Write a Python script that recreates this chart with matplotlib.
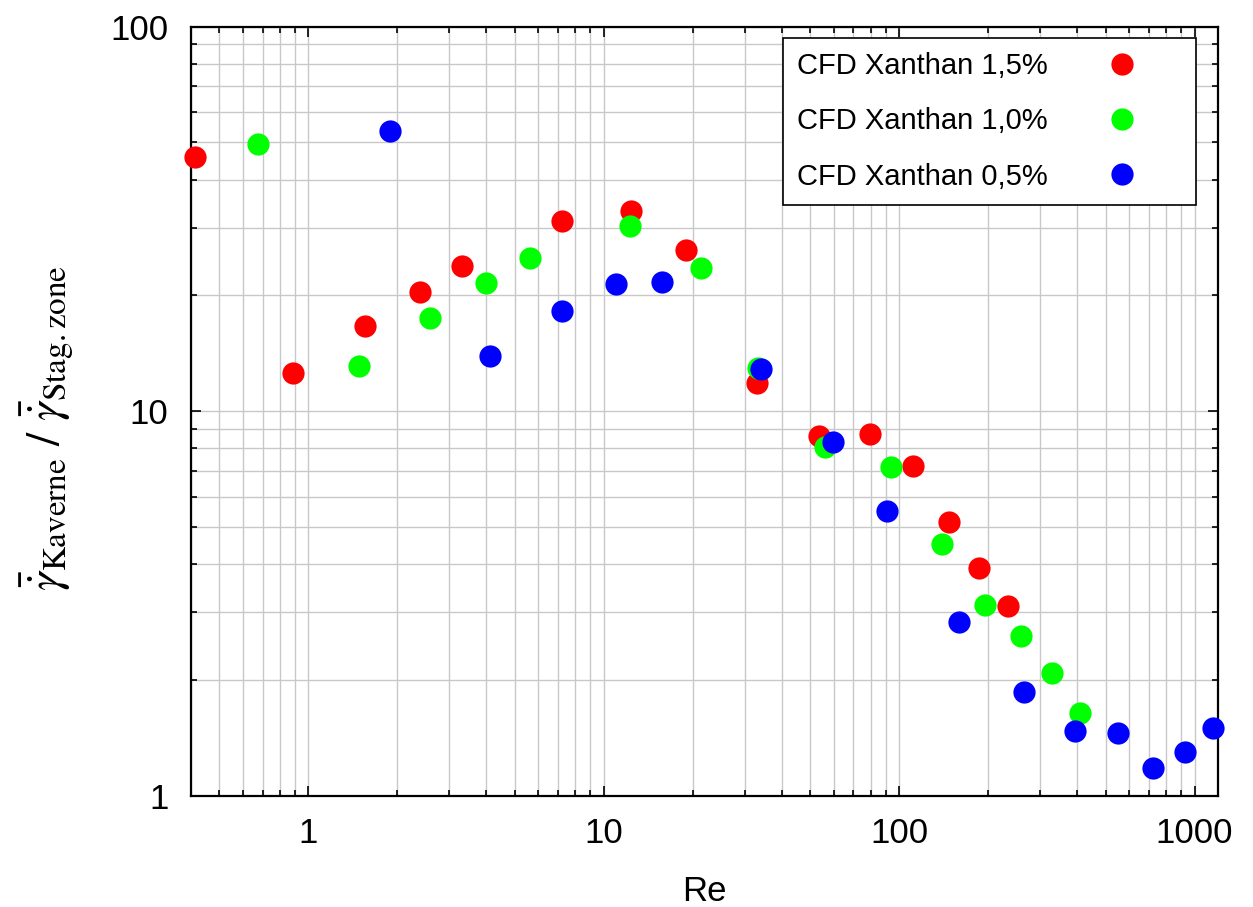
import numpy as np
import matplotlib
matplotlib.use('Agg')
from matplotlib import pyplot as plt
from matplotlib.ticker import LogLocator, FuncFormatter, NullFormatter

# data (Re vs. shear rate ratio)
re_15 = [0.414, 0.89, 1.55, 2.38, 3.32, 7.25, 12.4, 19.0, 32.9, 53.7, 79.9, 111, 147, 187, 233]
ratio_15 = [45.8, 12.56, 16.66, 20.4, 23.9, 31.2, 33.2, 26.2, 11.84, 8.62, 8.73, 7.21, 5.15, 3.91, 3.11]

re_10 = [0.677, 1.49, 2.59, 3.98, 5.65, 12.3, 21.4, 33.4, 56.3, 93.5, 140, 195, 258, 328, 408]
ratio_10 = [49.5, 13.1, 17.5, 21.5, 25.0, 30.3, 23.6, 12.95, 8.07, 7.16, 4.52, 3.13, 2.60, 2.08, 1.64]

re_05 = [1.895, 4.13, 7.25, 11.04, 15.7, 34.2, 59.5, 91.3, 160, 264, 393, 549, 722, 926, 1152]
ratio_05 = [53.6, 13.9, 18.2, 21.4, 21.7, 12.88, 8.32, 5.50, 2.83, 1.86, 1.47, 1.455, 1.18, 1.30, 1.50]

labels = ['CFD Xanthan 1,5%', 'CFD Xanthan 1,0%', 'CFD Xanthan 0,5%']
colors = ['#ff0000', '#00ff00', '#0000ff']

plt.rcParams['font.family'] = ['Liberation Sans', 'DejaVu Sans']
plt.rcParams['mathtext.fontset'] = 'stix'

W, H = 1253, 907
fig = plt.figure(figsize=(W / 100, H / 100), dpi=100)
ax = fig.add_axes([190.7 / W, 1 - 795.7 / H, (1218 - 190.7) / W, (795.7 - 26.7) / H])

for xs, ys, lab, c in zip([re_15, re_10, re_05], [ratio_15, ratio_10, ratio_05], labels, colors):
    ax.plot(xs, ys, linestyle='none', marker='o', markersize=16, color=c,
            markeredgewidth=0, label=lab, clip_on=False, zorder=5)

ax.set_xscale('log')
ax.set_yscale('log')
ax.set_xlim(0.4, 1200)
ax.set_ylim(1, 100)

for a in (ax.xaxis, ax.yaxis):
    a.set_major_locator(LogLocator(base=10))
    a.set_minor_locator(LogLocator(base=10, subs=np.arange(2, 10)))
    a.set_minor_formatter(NullFormatter())
    a.set_major_formatter(FuncFormatter(lambda v, p: '%g' % v))

ax.grid(True, which='major', color='#c8c8c8', linewidth=1.0)
ax.grid(True, which='minor', color='#c8c8c8', linewidth=1.0)
ax.set_axisbelow(True)

ax.tick_params(which='both', direction='in', top=True, right=True, labelsize=25, width=1.2)
ax.tick_params(which='major', length=7)
ax.tick_params(which='minor', length=4)
ax.tick_params(axis='x', which='major', pad=15.5)
ax.tick_params(axis='y', which='major', pad=16)
for s in ax.spines.values():
    s.set_linewidth(1.6)

ax.set_xlabel('Re', fontsize=25)
ax.xaxis.set_label_coords(0.5, -0.103)
ax.set_ylabel(r'$\bar{\dot{\gamma}}_{\mathrm{Kaverne}}\ /\ \bar{\dot{\gamma}}_{\mathrm{Stag.zone}}$',
              fontsize=34)
ax.yaxis.set_label_coords(-0.112, 0.478)

leg = ax.legend(loc='upper right', bbox_to_anchor=(1196 / W, 1 - 38 / H),
                bbox_transform=fig.transFigure, borderaxespad=0, markerfirst=False,
                fontsize=21, frameon=True, fancybox=False, labelspacing=0.93,
                handlelength=4.1, handletextpad=0.5, borderpad=0.49, numpoints=1)
leg.get_frame().set_edgecolor('black')
leg.get_frame().set_linewidth(1.2)
leg.get_frame().set_alpha(1)

fig.savefig('out.png', dpi=100)
